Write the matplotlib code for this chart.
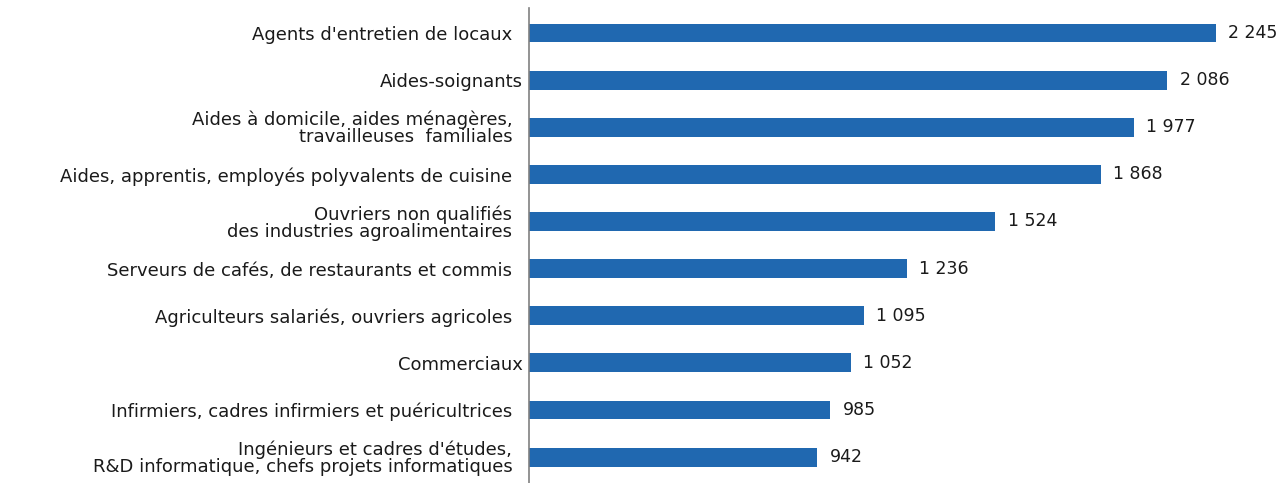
import matplotlib
matplotlib.use("Agg")
import matplotlib.pyplot as plt
import matplotlib.transforms as mtransforms

plt.rcParams['font.family'] = ['DejaVu Sans']

categories = [
    "Agents d'entretien de locaux",
    "Aides-soignants",
    "Aides à domicile, aides ménagères,\ntravailleuses  familiales",
    "Aides, apprentis, employés polyvalents de cuisine",
    "Ouvriers non qualifiés\ndes industries agroalimentaires",
    "Serveurs de cafés, de restaurants et commis",
    "Agriculteurs salariés, ouvriers agricoles",
    "Commerciaux",
    "Infirmiers, cadres infirmiers et puéricultrices",
    "Ingénieurs et cadres d'études,\nR&D informatique, chefs projets informatiques",
]
values = [2245, 2086, 1977, 1868, 1524, 1236, 1095, 1052, 985, 942]

bar_color = '#2068b0'

fig = plt.figure(figsize=(12.83, 4.83), dpi=100)
ax = fig.add_axes([529 / 1283, 0, 754 / 1283, 475 / 483])

pos = list(range(len(categories)))
ax.barh(pos, values, height=0.4, color=bar_color)

ax.set_xlim(0, 2464)
ax.set_ylim(9.55, -0.53)

for y, v in zip(pos, values):
    label = f"{v:,}".replace(",", " ")
    ax.text(v + 40, y, label, va='center', ha='left', fontsize=12.5, color='#1a1a1a')

ax.set_yticks(pos)
ax.set_yticklabels(categories, fontsize=13, color='#1a1a1a', linespacing=0.92)
ax.tick_params(axis='y', length=0, pad=12)
ax.set_xticks([])

# these two sit right against the axis in the original
shift = mtransforms.ScaledTranslation(11 / 100, 0, fig.dpi_scale_trans)
for i, lab in enumerate(ax.get_yticklabels()):
    if categories[i] in ("Aides-soignants", "Commerciaux"):
        lab.set_transform(lab.get_transform() + shift)

for s in ['top', 'right', 'bottom']:
    ax.spines[s].set_visible(False)
ax.spines['left'].set_color('#808080')
ax.spines['left'].set_linewidth(1.2)

fig.savefig('out.png', dpi=100)
